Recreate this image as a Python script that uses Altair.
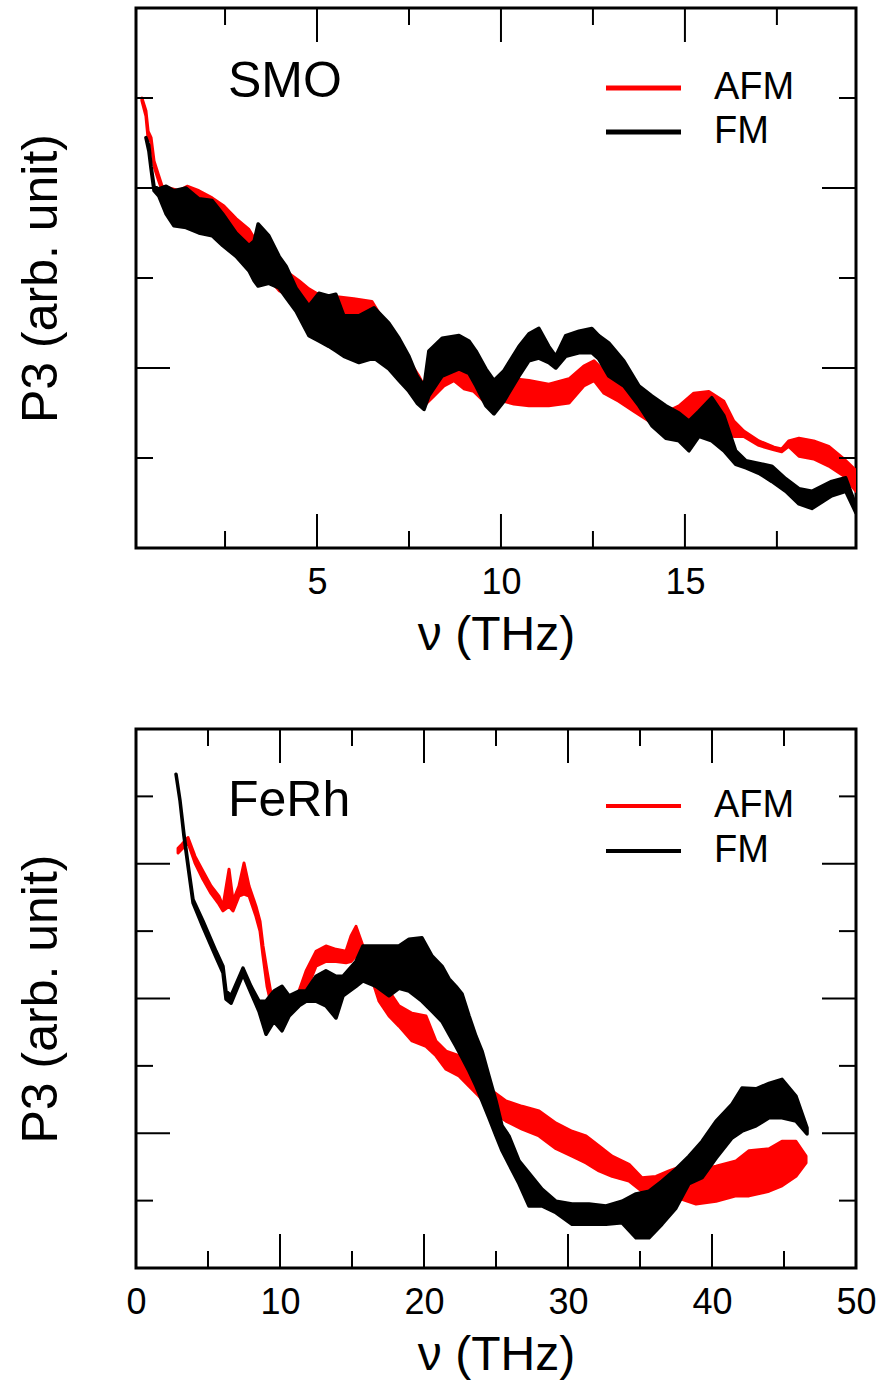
import altair as alt
import pandas as pd

# ---------------- data ----------------
# SMO, FM (black): frequency (THz) and upper / lower envelope of the noisy P3 trace (arb. unit)
smo_fm_x = [0.35, 0.43, 0.49, 0.57, 0.70, 0.90, 1.11, 1.44, 1.79, 2.15, 2.44, 2.80, 3.15, 3.29, 3.40,
            3.69, 3.97, 4.16, 4.43, 4.78, 5.05, 5.32, 5.51, 5.73, 6.14, 6.55, 6.95, 7.23, 7.50, 7.72,
            7.91, 8.04, 8.40, 8.86, 9.13, 9.32, 9.59, 9.81, 10.08, 10.49, 10.76, 11.03, 11.30, 11.49,
            11.76, 12.12, 12.47, 12.66, 12.93, 13.34, 13.75, 14.10, 14.48, 14.84, 15.11, 15.38, 15.73,
            16.06, 16.38, 16.66, 17.01, 17.36, 17.74, 18.10, 18.45, 18.99, 19.37, 19.65]
smo_fm_hi = [4.56, 4.47, 4.24, 4.02, 3.99, 4.02, 3.97, 4.00, 3.88, 3.86, 3.71, 3.50, 3.36, 3.41, 3.60,
             3.47, 3.24, 3.13, 2.89, 2.69, 2.83, 2.80, 2.82, 2.58, 2.58, 2.67, 2.50, 2.33, 2.13, 1.91,
             1.80, 2.19, 2.33, 2.36, 2.30, 2.19, 1.99, 1.86, 1.97, 2.24, 2.38, 2.44, 2.24, 2.13,
             2.36, 2.41, 2.44, 2.36, 2.28, 2.08, 1.80, 1.69, 1.58, 1.50, 1.41, 1.52, 1.67,
             1.47, 1.08, 0.97, 0.94, 0.91, 0.77, 0.66, 0.63, 0.74, 0.78, 0.47]
smo_fm_lo = [4.56, 4.41, 4.21, 3.97, 3.91, 3.71, 3.58, 3.56, 3.50, 3.47, 3.36, 3.24, 3.08, 2.97, 2.91,
             2.94, 2.89, 2.78, 2.63, 2.36, 2.30, 2.24, 2.19, 2.13, 2.06, 2.11, 1.99, 1.86, 1.74, 1.61,
             1.54, 1.69, 1.91, 1.99, 1.94, 1.80, 1.58, 1.49, 1.63, 1.91, 2.08, 2.11, 2.06, 2.00,
             2.13, 2.17, 2.17, 2.10, 1.91, 1.80, 1.58, 1.36, 1.22, 1.19, 1.08, 1.24, 1.19,
             1.08, 0.93, 0.89, 0.83, 0.74, 0.63, 0.49, 0.44, 0.58, 0.63, 0.39]

# SMO, AFM (red)
smo_afm_x = [0.24, 0.35, 0.41, 0.49, 0.57, 0.68, 0.79, 0.98, 1.25, 1.47, 1.79, 2.15, 2.47, 2.80, 3.15,
             3.34, 3.50, 3.97, 4.51, 4.78, 5.11, 5.60, 6.00, 6.49, 6.82, 7.23, 7.50, 7.77, 7.91, 8.18,
             8.45, 8.72, 8.99, 9.26, 9.54, 9.81, 10.08, 10.35, 10.76, 11.30, 11.85, 12.25, 12.53, 12.80,
             13.20, 13.61, 14.02, 14.43, 14.84, 15.24, 15.65, 16.06, 16.33, 16.60, 17.01, 17.42, 17.63,
             17.82, 18.10, 18.50, 18.91, 19.32, 19.65]
smo_afm_hi = [5.00, 4.86, 4.63, 4.56, 4.30, 4.16, 4.02, 4.00, 3.97, 4.02, 3.97, 3.89, 3.80, 3.66, 3.54,
              3.41, 3.30, 3.13, 2.97, 2.88, 2.80, 2.79, 2.77, 2.74, 2.52, 2.24, 2.08, 1.91, 1.80, 1.91,
              2.08, 2.13, 2.10, 2.02, 1.91, 1.80, 1.86, 1.88, 1.86, 1.82, 1.88, 2.02, 2.08, 1.97,
              1.86, 1.74, 1.63, 1.50, 1.58, 1.72, 1.74, 1.63, 1.41, 1.30, 1.19, 1.12, 1.10,
              1.19, 1.22, 1.19, 1.13, 0.99, 0.86]
smo_afm_lo = [4.97, 4.80, 4.54, 4.52, 4.24, 4.10, 3.97, 3.86, 3.69, 3.74, 3.72, 3.66, 3.50, 3.41, 3.27,
              3.17, 3.08, 2.86, 2.74, 2.63, 2.54, 2.54, 2.52, 2.50, 2.24, 1.97, 1.74, 1.63, 1.58, 1.69,
              1.80, 1.86, 1.77, 1.74, 1.63, 1.58, 1.63, 1.60, 1.58, 1.58, 1.61, 1.80, 1.86, 1.72,
              1.63, 1.52, 1.41, 1.28, 1.32, 1.47, 1.43, 1.36, 1.24, 1.24, 1.14, 1.09, 1.07,
              1.13, 1.02, 0.99, 0.91, 0.80, 0.63]

# FeRh, FM (black)
ferh_fm_x = [2.78, 3.06, 3.33, 3.68, 3.96, 4.65, 5.56, 6.04, 6.25, 6.60, 7.43, 7.99, 8.54, 9.03, 9.58,
             10.14, 10.63, 11.32, 11.81, 12.50, 13.19, 13.89, 14.38, 15.28, 15.76, 16.67, 17.57, 18.26,
             18.96, 19.86, 20.56, 21.25, 21.74, 22.22, 22.64, 23.13, 23.61, 24.03, 24.51, 25.00, 25.42,
             25.90, 26.60, 27.29, 28.19, 29.17, 30.28, 31.46, 32.64, 33.75, 34.72, 35.63, 36.53, 37.50,
             38.40, 39.31, 40.28, 41.39, 42.08, 43.06, 43.96, 44.86, 45.83, 46.60]
ferh_fm_hi = [7.33, 6.93, 6.44, 5.89, 5.47, 5.15, 4.70, 4.48, 4.11, 4.04, 4.45, 4.18, 3.96, 3.96, 4.11,
              4.18, 4.04, 4.11, 4.11, 4.33, 4.41, 4.33, 4.33, 4.55, 4.78, 4.78, 4.78, 4.78,
              4.88, 4.90, 4.63, 4.48, 4.29, 4.18, 4.07, 3.74, 3.44, 3.22, 2.85, 2.48, 2.11,
              1.96, 1.59, 1.41, 1.17, 0.99, 0.95, 0.95, 0.92, 0.99, 1.10, 1.14, 1.29, 1.47,
              1.66, 1.88, 2.18, 2.43, 2.67, 2.66, 2.74, 2.80, 2.55, 2.08]
ferh_fm_lo = [7.33, 6.93, 6.41, 5.86, 5.42, 5.06, 4.61, 4.38, 3.99, 3.93, 4.36, 4.08, 3.81, 3.47, 3.66,
              3.52, 3.74, 3.89, 3.96, 3.96, 3.89, 3.71, 4.04, 4.18, 4.26, 4.18, 4.04, 4.15,
              4.11, 3.96, 3.81, 3.66, 3.47, 3.29, 3.12, 2.92, 2.70, 2.48, 2.23, 1.96, 1.74,
              1.54, 1.25, 0.92, 0.92, 0.82, 0.65, 0.65, 0.65, 0.67, 0.45, 0.45, 0.65, 0.89,
              1.25, 1.34, 1.63, 1.93, 2.03, 2.11, 2.23, 2.23, 2.18, 1.99]

# FeRh, AFM (red)
ferh_afm_x = [2.92, 3.19, 3.61, 4.10, 4.65, 5.21, 5.76, 6.04, 6.46, 6.74, 7.15, 7.50, 7.85, 8.33, 8.61,
              8.82, 9.10, 9.38, 9.72, 10.21, 10.90, 11.32, 11.81, 12.50, 13.19, 13.89, 14.58, 14.93,
              15.28, 15.76, 16.32, 16.88, 17.57, 18.26, 19.17, 20.14, 20.83, 21.53, 22.43, 23.13, 23.82,
              24.72, 25.69, 26.81, 27.99, 29.17, 30.28, 31.25, 32.15, 33.06, 34.24, 35.14, 36.11, 37.01,
              37.92, 38.89, 40.28, 41.67, 42.57, 43.96, 44.86, 45.83, 46.53]
ferh_afm_hi = [6.23, 6.29, 6.39, 6.11, 5.89, 5.67, 5.52, 5.37, 5.92, 5.45, 5.67, 6.01, 5.67, 5.37, 5.15,
               4.78, 4.41, 4.07, 3.96, 3.84, 4.01, 4.11, 4.41, 4.70, 4.78, 4.73, 4.70, 4.93,
               5.07, 4.78, 4.63, 4.33, 4.11, 3.89, 3.78, 3.74, 3.37, 3.22, 3.15, 3.00, 2.85,
               2.63, 2.48, 2.40, 2.33, 2.15, 2.03, 1.96, 1.81, 1.66, 1.54, 1.34, 1.36, 1.44,
               1.51, 1.44, 1.51, 1.59, 1.74, 1.77, 1.88, 1.88, 1.66]
ferh_afm_lo = [6.16, 6.22, 6.31, 6.01, 5.77, 5.56, 5.40, 5.30, 5.37, 5.30, 5.52, 5.55, 5.52, 5.22, 5.00,
               4.63, 4.18, 3.92, 3.78, 3.69, 3.84, 3.96, 4.11, 4.48, 4.55, 4.55, 4.53, 4.55,
               4.63, 4.58, 4.33, 3.96, 3.74, 3.59, 3.37, 3.29, 3.15, 2.95, 2.85, 2.70, 2.55,
               2.33, 2.18, 2.06, 1.96, 1.77, 1.66, 1.56, 1.44, 1.36, 1.29, 1.14, 1.07, 1.07,
               1.02, 0.95, 0.99, 1.07, 1.07, 1.14, 1.22, 1.36, 1.56]

# axis tick positions and labels
smo_x_labels = [5, 10, 15]
smo_major_x = [5, 10, 15]
smo_minor_x = [2.5, 7.5, 12.5, 17.5]
smo_major_y = [2, 4]
smo_minor_y = [1, 3, 5]
ferh_x_labels = [0, 10, 20, 30, 40, 50]
ferh_major_x = [10, 20, 30, 40]
ferh_minor_x = [5, 15, 25, 35, 45]
ferh_major_y = [2, 4, 6]
ferh_minor_y = [1, 3, 5, 7]

series_names = ["AFM", "FM"]
series_colors = ["#ff0000", "#000000"]

FONT = "Liberation Sans"
W = 720
MAJ = 34
MIN = 17


def x_axis(labels):
    return alt.Axis(values=labels, title="ν (THz)", grid=False, ticks=False, domain=False,
                    labelFontSize=36, labelPadding=17, labelFlush=False,
                    titleFontSize=48, titleFontWeight="normal", titlePadding=11,
                    labelFont=FONT, titleFont=FONT, labelColor="black", titleColor="black")


def y_axis():
    return alt.Axis(title="P3 (arb. unit)", labels=False, ticks=False, domain=False, grid=False,
                    titleFontSize=50, titleFontWeight="normal", titlePadding=70,
                    titleFont=FONT, titleColor="black")


def band(xs, hi, lo, color, sw, xs_scale, ys_scale, labels):
    df = pd.DataFrame({"x": xs, "hi": hi, "lo": lo})
    return alt.Chart(df).mark_area(
        color=color, stroke=color, strokeWidth=sw, strokeJoin="round", clip=True
    ).encode(
        x=alt.X("x:Q", scale=xs_scale, axis=x_axis(labels)),
        y=alt.Y("hi:Q", scale=ys_scale, axis=y_axis()),
        y2="lo:Q",
    )


def tick_layers(major_x, minor_x, major_y, minor_y, xs_scale, ys_scale, H, labels):
    layers = []
    for vals, L in ((major_x, MAJ), (minor_x, MIN)):
        d = pd.DataFrame({"x": vals})
        for y0, y1 in ((0, L), (H - L, H)):
            layers.append(alt.Chart(d).mark_rule(color="black", strokeWidth=2).encode(
                x=alt.X("x:Q", scale=xs_scale, axis=x_axis(labels)),
                y=alt.value(y0), y2=alt.value(y1)))
    for vals, L in ((major_y, MAJ), (minor_y, MIN)):
        d = pd.DataFrame({"hi": vals})
        for x0, x1 in ((0, L), (W - L, W)):
            layers.append(alt.Chart(d).mark_rule(color="black", strokeWidth=2).encode(
                y=alt.Y("hi:Q", scale=ys_scale, axis=y_axis()),
                x=alt.value(x0), x2=alt.value(x1)))
    return layers


def legend_layers(y_afm, y_fm, lw):
    layers = []
    one = pd.DataFrame({"k": [0]})
    for name, color, yy in zip(series_names, series_colors, (y_afm, y_fm)):
        layers.append(alt.Chart(one).mark_rule(color=color, strokeWidth=lw).encode(
            x=alt.value(470), x2=alt.value(545), y=alt.value(yy)))
        layers.append(alt.Chart(one).mark_text(
            align="left", baseline="middle", fontSize=38, font=FONT, color="black").encode(
            x=alt.value(578), y=alt.value(yy), text=alt.value(name)))
    return layers


def panel(label, fm, afm, xdom, ydom, labels, ticks, H, leg, lw):
    xs = alt.Scale(domain=xdom, nice=False, zero=False)
    ys = alt.Scale(domain=ydom, nice=False, zero=False)
    one = pd.DataFrame({"k": [0]})
    lab = alt.Chart(one).mark_text(align="left", baseline="middle", fontSize=50, font=FONT,
                                   color="black").encode(
        x=alt.value(92), y=alt.value(leg[2]), text=alt.value(label))
    layers = [band(*afm, series_colors[0], 3, xs, ys, labels),
              band(*fm, series_colors[1], 3.5, xs, ys, labels)]
    layers += tick_layers(*ticks, xs, ys, H, labels)
    layers += legend_layers(leg[0], leg[1], lw)
    layers.append(lab)
    return alt.layer(*layers).properties(width=W, height=H)


top = panel("SMO",
            (smo_fm_x, smo_fm_hi, smo_fm_lo), (smo_afm_x, smo_afm_hi, smo_afm_lo),
            [0.08, 19.65], [0, 6], smo_x_labels,
            (smo_major_x, smo_minor_x, smo_major_y, smo_minor_y), 540, (80, 124, 74), 5)
bottom = panel("FeRh",
               (ferh_fm_x, ferh_fm_hi, ferh_fm_lo), (ferh_afm_x, ferh_afm_hi, ferh_afm_lo),
               [0, 50], [0, 8], ferh_x_labels,
               (ferh_major_x, ferh_minor_x, ferh_major_y, ferh_minor_y), 539, (77, 122, 72), 4)

chart = alt.vconcat(top, bottom, spacing=65).properties(
    padding={"left": 14, "top": 5, "right": 0, "bottom": 0}
).configure(font=FONT, background="white").configure_view(stroke="black", strokeWidth=3)

chart.save("out.html", embed_options={"renderer": "svg", "actions": False})
